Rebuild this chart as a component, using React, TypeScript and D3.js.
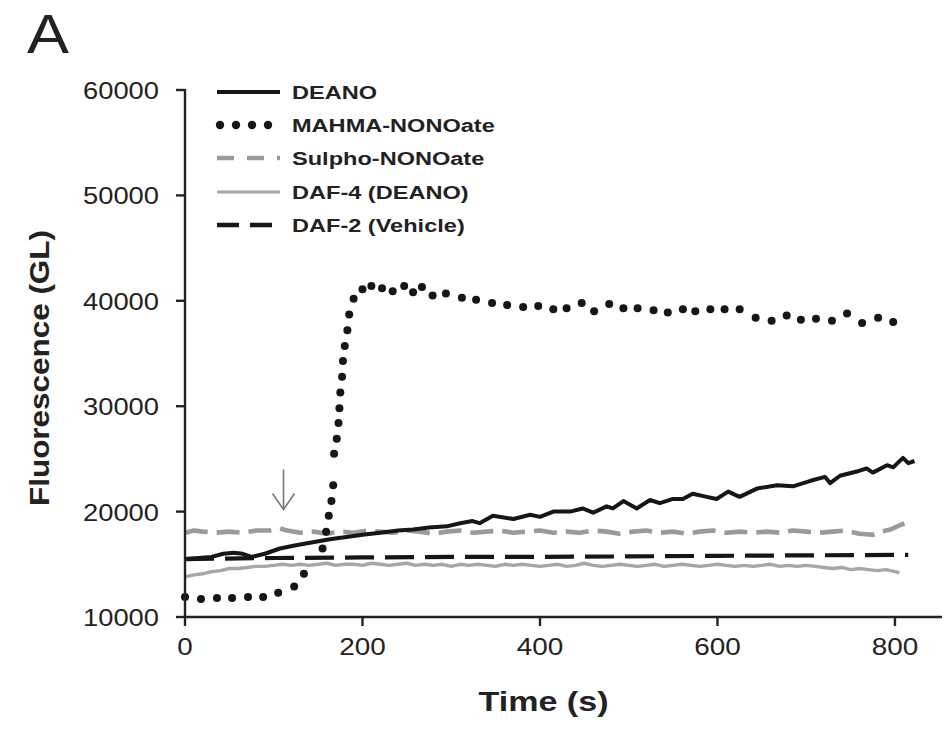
import React from "react";
import * as d3 from "d3";

// ---------- DATA ----------
const seriesNames = ["DEANO", "MAHMA-NONOate", "Sulpho-NONOate", "DAF-4 (DEANO)", "DAF-2 (Vehicle)"];

const deanoT = [0, 15, 30, 43, 55, 65, 75, 90, 107, 125, 144, 165, 182, 200, 220, 240, 257, 275, 295, 310, 324, 332, 347, 370, 389, 400, 415, 434, 448, 460, 475, 482, 494, 509, 524, 535, 550, 561, 572, 588, 599, 612, 625, 645, 667, 685, 704, 721, 727, 738, 757, 768, 775, 791, 798, 809, 815, 822];
const deanoV = [15500, 15600, 15700, 16000, 16100, 16000, 15700, 16000, 16500, 16800, 17100, 17400, 17600, 17800, 18000, 18200, 18300, 18500, 18600, 18900, 19100, 18900, 19600, 19300, 19700, 19500, 20000, 20000, 20300, 19900, 20500, 20300, 21000, 20300, 21100, 20800, 21200, 21200, 21700, 21400, 21200, 21900, 21400, 22200, 22500, 22400, 22900, 23300, 22700, 23400, 23800, 24100, 23700, 24400, 24200, 25100, 24600, 24800];

const mahmaT = [0, 18, 36, 53, 71, 88, 105, 123, 134, 155, 159, 162, 165, 167, 168, 171, 173, 174, 175, 177, 178, 180, 183, 185, 190, 200, 210, 222, 234, 247, 257, 267, 279, 294, 312, 328, 346, 363, 381, 398, 415, 430, 447, 461, 478, 494, 510, 528, 544, 561, 575, 592, 608, 625, 643, 661, 678, 694, 711, 729, 746, 763, 781, 798];
const mahmaV = [11900, 11700, 11800, 11800, 11900, 11900, 12300, 12900, 14100, 16500, 18100, 19600, 21000, 22500, 25500, 26900, 28400, 29800, 31300, 32800, 34300, 35700, 37200, 38700, 40200, 41100, 41400, 41200, 40900, 41400, 40800, 41300, 40500, 40700, 40300, 40100, 39800, 39600, 39400, 39500, 39200, 39300, 39800, 39000, 39700, 39300, 39300, 39100, 38900, 39200, 39000, 39200, 39200, 39200, 38400, 38100, 38600, 38200, 38300, 38100, 38800, 37900, 38400, 38000];

const sulphoT = [0, 10, 20, 35, 50, 65, 80, 95, 107, 115, 130, 145, 160, 175, 190, 205, 220, 235, 250, 265, 280, 295, 310, 325, 340, 355, 370, 385, 400, 415, 430, 445, 460, 475, 490, 505, 520, 535, 550, 565, 580, 595, 610, 625, 640, 655, 670, 685, 700, 715, 730, 745, 760, 775, 785, 795, 805, 815];
const sulphoV = [18000, 18200, 18100, 18000, 18100, 18000, 18200, 18200, 18400, 18200, 18000, 18100, 17900, 18100, 18000, 18200, 18100, 18000, 18200, 18100, 17900, 18100, 18200, 18000, 18100, 18200, 18000, 18100, 18200, 18000, 18100, 18000, 18200, 18100, 17900, 18100, 18200, 18000, 18100, 17900, 18100, 18200, 18000, 18100, 18000, 18100, 18000, 18200, 18100, 18000, 18100, 18200, 17900, 17800, 18100, 18300, 18700, 19000];

const daf4T = [0, 10, 20, 30, 40, 50, 60, 70, 80, 90, 100, 110, 120, 130, 140, 150, 160, 170, 180, 190, 200, 210, 220, 230, 240, 250, 260, 270, 280, 290, 300, 310, 320, 330, 340, 350, 360, 370, 380, 390, 400, 410, 420, 430, 440, 450, 460, 470, 480, 490, 500, 510, 520, 530, 540, 550, 560, 570, 580, 590, 600, 610, 620, 630, 640, 650, 660, 670, 680, 690, 700, 710, 720, 730, 740, 750, 760, 770, 780, 790, 800, 805];
const daf4V = [13800, 14000, 14100, 14300, 14400, 14600, 14600, 14700, 14800, 14800, 14900, 15000, 14900, 15000, 14900, 15000, 15100, 14900, 15000, 15000, 14900, 15100, 15000, 14900, 15000, 15100, 14900, 15000, 14900, 15000, 14800, 15000, 14900, 15000, 14900, 14800, 15000, 14900, 15000, 14900, 14800, 14900, 15000, 14800, 14900, 15100, 14900, 14800, 14900, 15000, 14900, 14800, 14900, 15000, 14800, 14900, 15000, 14900, 14800, 14900, 15000, 14900, 14800, 14900, 14800, 14900, 15000, 14800, 14900, 14800, 14900, 14800, 14700, 14600, 14700, 14500, 14600, 14500, 14400, 14500, 14300, 14200];

const daf2T = [0, 100, 200, 300, 400, 500, 600, 700, 815];
const daf2V = [15500, 15600, 15650, 15700, 15700, 15750, 15800, 15850, 15900];

const xTicks = [0, 200, 400, 600, 800];
const yTicks = [10000, 20000, 30000, 40000, 50000, 60000];
const arrowT = 111;
const arrowFrom = 24000;
const arrowTo = 20200;

// ---------- LAYOUT ----------
const W = 947, H = 736;
const X0 = 185, X1 = 942, Y0 = 617, Y1 = 90;
const FONT = "'Liberation Sans', Arial, Helvetica, sans-serif";

export default function App() {
  const x = d3.scaleLinear().domain([0, 853]).range([X0, X1]);
  const y = d3.scaleLinear().domain([10000, 60000]).range([Y0, Y1]);
  const line = (ts: number[], vs: number[]) =>
    d3.line<number>().x((_, i) => x(ts[i])).y((v) => y(v)).curve(d3.curveLinear)(vs) || "";

  const dark = "#161616";
  const sulphoCol = "#9a9a9a";
  const daf4Col = "#a6a6a6";

  const legendRows = [92, 125, 158, 192, 225];
  const lx0 = 217, lx1 = 280, tx = 292;

  return (
    <svg width={W} height={H} style={{ position: "absolute", left: 0, top: 0, background: "#fff" }}>
      <rect x={0} y={0} width={W} height={H} fill="#fff" />
      {/* panel letter */}
      <text x={27} y={53} fontFamily={FONT} fontSize={56} fill="#222" textLength={42} lengthAdjust="spacingAndGlyphs">A</text>

      {/* series */}
      <path d={line(daf4T, daf4V)} fill="none" stroke={daf4Col} strokeWidth={3.4} strokeLinejoin="round" />
      <path d={line(sulphoT, sulphoV)} fill="none" stroke={sulphoCol} strokeWidth={4.6} strokeDasharray="23 9" strokeLinejoin="round" />
      <path d={line(daf2T, daf2V)} fill="none" stroke={dark} strokeWidth={4.2} strokeDasharray="29 11" />
      <path d={line(deanoT, deanoV)} fill="none" stroke={dark} strokeWidth={4} strokeLinejoin="round" />
      {mahmaV.map((v, i) => (
        <circle key={i} cx={x(mahmaT[i])} cy={y(v)} r={4} fill={dark} />
      ))}

      {/* arrow */}
      <g stroke="#777" strokeWidth={1.6} fill="none">
        <line x1={x(arrowT)} x2={x(arrowT)} y1={y(arrowFrom)} y2={y(arrowTo)} />
        <polyline points={`${x(arrowT) - 11},${y(arrowTo) - 16} ${x(arrowT)},${y(arrowTo)} ${x(arrowT) + 11},${y(arrowTo) - 16}`} />
      </g>

      {/* axes */}
      <g stroke="#222" strokeWidth={2.4} fill="none">
        <line x1={X0} x2={X0} y1={Y1 - 1} y2={Y0 + 1} />
        <line x1={X0 - 1} x2={X1} y1={Y0} y2={Y0} />
        {yTicks.map((t) => (
          <line key={t} x1={X0 - 9} x2={X0} y1={y(t)} y2={y(t)} />
        ))}
        {xTicks.map((t) => (
          <line key={t} x1={x(t)} x2={x(t)} y1={Y0} y2={Y0 + 9} />
        ))}
      </g>
      {yTicks.map((t) => (
        <text key={t} x={159} y={y(t) + 9} textAnchor="end" fontFamily={FONT} fontSize={24} fill="#222"
          textLength={76} lengthAdjust="spacingAndGlyphs">{String(t)}</text>
      ))}
      {xTicks.map((t) => {
        const s = String(t);
        return (
          <text key={t} x={x(t)} y={655} textAnchor="middle" fontFamily={FONT} fontSize={24} fill="#222"
            textLength={s.length * 15.5} lengthAdjust="spacingAndGlyphs">{s}</text>
        );
      })}

      {/* axis titles */}
      <text x={x(0) + (X1 - X0) / 2 - 20} y={711} textAnchor="middle" fontFamily={FONT} fontWeight="bold" fontSize={27} fill="#222"
        textLength={130} lengthAdjust="spacingAndGlyphs">Time (s)</text>
      <text transform={`translate(49,${368}) rotate(-90)`} textAnchor="middle" fontFamily={FONT} fontWeight="bold" fontSize={28} fill="#222"
        textLength={276} lengthAdjust="spacingAndGlyphs">Fluorescence (GL)</text>

      {/* legend */}
      <line x1={lx0} x2={lx1} y1={legendRows[0]} y2={legendRows[0]} stroke={dark} strokeWidth={4} />
      {[0, 1, 2, 3].map((k) => (
        <circle key={k} cx={lx0 + 3 + k * 16} cy={legendRows[1]} r={4.2} fill={dark} />
      ))}
      <line x1={lx0} x2={lx1} y1={legendRows[2]} y2={legendRows[2]} stroke={sulphoCol} strokeWidth={4.6} strokeDasharray="17 13" />
      <line x1={lx0} x2={lx1} y1={legendRows[3]} y2={legendRows[3]} stroke={daf4Col} strokeWidth={3.2} />
      <line x1={lx0} x2={lx1} y1={legendRows[4]} y2={legendRows[4]} stroke={dark} strokeWidth={4.6} strokeDasharray="22 11" />
      {seriesNames.map((n, i) => (
        <text key={n} transform={`translate(${tx},${legendRows[i] + 7}) scale(1.24,1)`} fontFamily={FONT} fontWeight="bold" fontSize={19} fill="#222">{n}</text>
      ))}
    </svg>
  );
}
